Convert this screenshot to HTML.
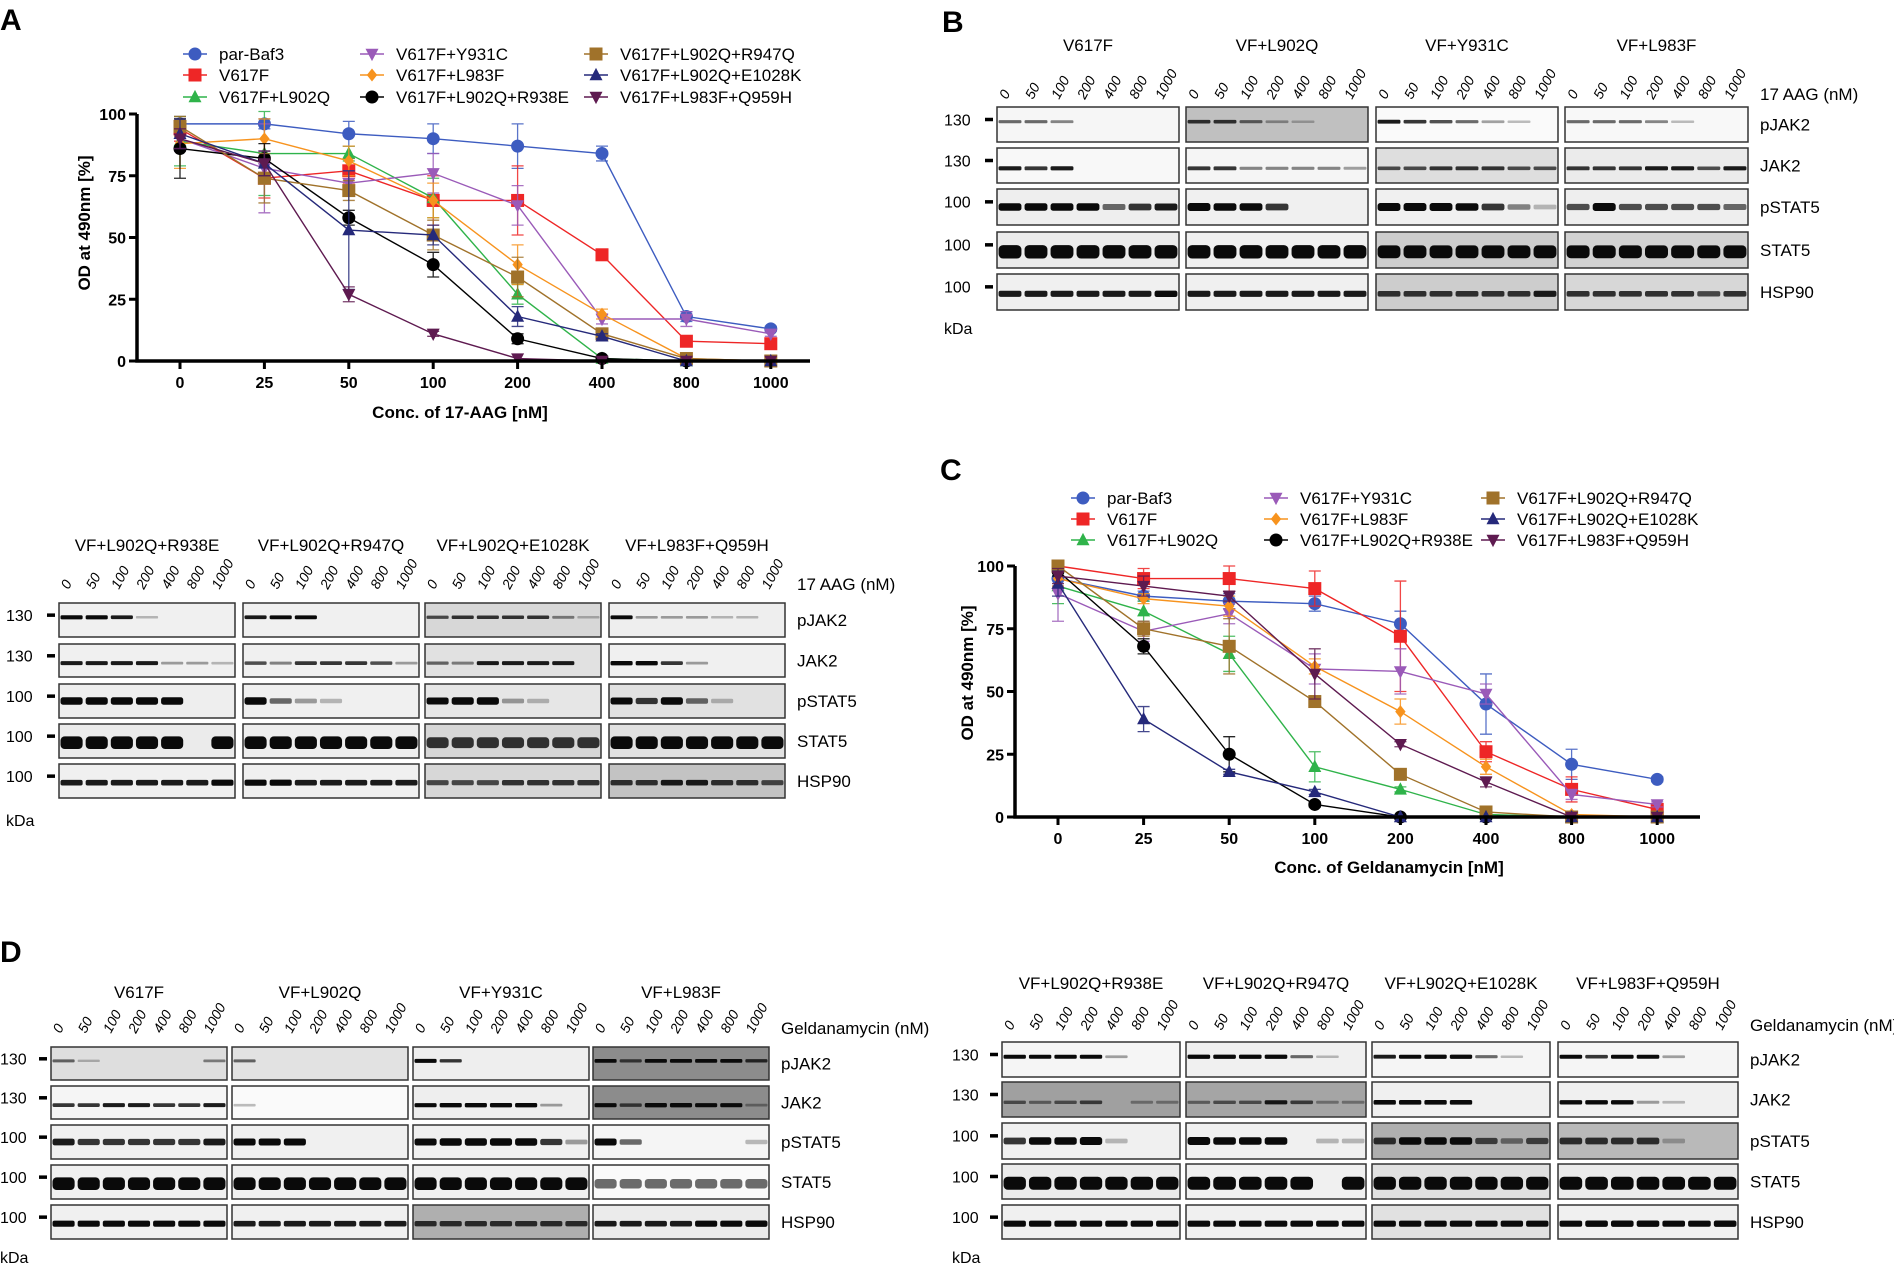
<!DOCTYPE html>
<html><head><meta charset="utf-8">
<style>
html,body{margin:0;padding:0;background:#fff;}
svg{display:block;font-family:"Liberation Sans",sans-serif;}
</style></head>
<body>
<svg id="fig" width="1894" height="1265" viewBox="0 0 1894 1265" xmlns="http://www.w3.org/2000/svg">
<rect x="0" y="0" width="1894" height="1265" fill="#fff"/>
<text x="0" y="30" font-size="30" font-weight="bold">A</text>
<text x="942" y="32" font-size="30" font-weight="bold">B</text>
<text x="940" y="480" font-size="30" font-weight="bold">C</text>
<text x="0" y="962" font-size="30" font-weight="bold">D</text>
<g id="layer"></g>
</svg>
<script>
// ---------- chart data ----------
const CATEGORIES = ['0','25','50','100','200','400','800','1000'];
const Y_TICKS = [0,25,50,75,100];
const SERIES_NAMES = ['par-Baf3','V617F','V617F+L902Q','V617F+Y931C','V617F+L983F','V617F+L902Q+R938E','V617F+L902Q+R947Q','V617F+L902Q+E1028K','V617F+L983F+Q959H'];
const SERIES_COLORS = ['#3d5cc0','#ee2626','#2fb34a','#9a5ab8','#f7931e','#000000','#a0722a','#25297a','#5e1a50'];
const SERIES_SHAPES = ['circle','square','tri','tridown','diamond','circle','square','tri','tridown'];

// Panel A (17-AAG)
const A_PAR    = [96,96,92,90,87,84,18,13];
const A_V617F  = [94,74,77,65,65,43,8,7];
const A_L902Q  = [89,84,84,66,27,1,0,0];
const A_Y931C  = [90,78,72,76,63,17,17,11];
const A_L983F  = [88,90,81,65,39,19,1,0];
const A_R938E  = [86,82,58,39,9,1,0,0];
const A_R947Q  = [95,74,69,51,34,11,1,0];
const A_E1028K = [92,80,53,51,18,10,0,0];
const A_Q959H  = [90,80,27,11,1,0,0,0];
const A_ERR_PAR=[3,2,5,6,9,3,2,1], A_ERR_V617F=[5,8,5,10,14,1,1,1], A_ERR_L902Q=[10,17,3,8,4,0,0,0];
const A_ERR_Y931C=[5,18,5,8,8,2,3,1], A_ERR_L983F=[10,8,6,7,8,2,0,0], A_ERR_R938E=[12,6,3,5,2,0,0,0];
const A_ERR_R947Q=[4,10,4,6,8,1,0,0], A_ERR_E1028K=[6,5,24,4,4,1,0,0], A_ERR_Q959H=[4,5,3,1,0,0,0,0];

// Panel C (Geldanamycin)
const C_PAR    = [95,88,86,85,77,45,21,15];
const C_V617F  = [100,95,95,91,72,26,11,3];
const C_L902Q  = [92,82,65,20,11,1,0,0];
const C_Y931C  = [89,74,81,59,58,49,9,5];
const C_L983F  = [95,87,84,60,42,20,1,0];
const C_R938E  = [98,68,25,5,0,0,0,0];
const C_R947Q  = [100,75,68,46,17,2,0,0];
const C_E1028K = [93,39,18,10,0,0,0,0];
const C_Q959H  = [96,92,88,57,29,14,0,0];
const C_ERR_PAR=[3,2,3,3,5,12,6,1], C_ERR_V617F=[1,4,5,7,22,4,5,2], C_ERR_L902Q=[7,4,7,6,1,0,0,0];
const C_ERR_Y931C=[11,4,4,6,9,4,2,1], C_ERR_L983F=[3,2,4,3,5,3,0,0], C_ERR_R938E=[2,3,7,1,0,0,0,0];
const C_ERR_R947Q=[2,3,11,2,1,1,0,0], C_ERR_E1028K=[5,5,1,1,0,0,0,0], C_ERR_Q959H=[3,4,2,10,1,2,0,0];

const NS='http://www.w3.org/2000/svg';
const layer=document.getElementById('layer');
function mk(tag,attrs,parent){const e=document.createElementNS(NS,tag);for(const k in attrs)e.setAttribute(k,attrs[k]);(parent||layer).appendChild(e);return e;}
function txt(s,attrs,parent){const e=mk('text',attrs,parent);e.textContent=s;return e;}

function marker(g,shape,x,y,color,r){
  let e;
  if(shape==='circle') e=mk('circle',{cx:x,cy:y,r:r,fill:color},g);
  else if(shape==='square') e=mk('rect',{x:x-r,y:y-r,width:2*r,height:2*r,fill:color},g);
  else if(shape==='tri') e=mk('polygon',{points:`${x},${y-r*1.1} ${x-r},${y+r*0.8} ${x+r},${y+r*0.8}`,fill:color},g);
  else if(shape==='tridown') e=mk('polygon',{points:`${x},${y+r*1.1} ${x-r},${y-r*0.8} ${x+r},${y-r*0.8}`,fill:color},g);
  else e=mk('polygon',{points:`${x},${y-r} ${x+r*0.8},${y} ${x},${y+r} ${x-r*0.8},${y}`,fill:color},g);
  return e;
}

function drawChart(cfg,seriesVals,seriesErrs){
  const g=mk('g',{});
  
  
  const xAt=i=>cfg.first+i*cfg.step;
  const yAt=v=>cfg.y0+(cfg.y100-cfg.y0)*v/100;
  seriesVals.forEach((vals,s)=>{
    const sg=mk('g',{},g);
    
    
    const col=SERIES_COLORS[s];
    const errs=seriesErrs[s];
    vals.forEach((v,i)=>{
      const e=errs[i]; if(e>0){
        const eb=mk('path',{d:`M${xAt(i)},${yAt(v-e)}V${yAt(v+e)}M${xAt(i)-6},${yAt(v-e)}h12M${xAt(i)-6},${yAt(v+e)}h12`,stroke:col,'stroke-width':1.3,fill:'none',opacity:0.85},sg);
        
        
      }
    });
    const pts=vals.map((v,i)=>xAt(i)+','+yAt(v)).join(' ');
    const line=mk('polyline',{points:pts,stroke:col,'stroke-width':1.4,fill:'none'},sg);
    
    
    vals.forEach((v,i)=>{
      const m=marker(sg,SERIES_SHAPES[s],xAt(i),yAt(v),col,6.5);
      
      
    });
  });
  const ax=mk('path',{d:`M${cfg.axX},${cfg.y100}V${cfg.y0}H${cfg.axEnd}`,stroke:'#000','stroke-width':3.5,fill:'none'},g);
  
  
  Y_TICKS.forEach(t=>{
    mk('line',{x1:cfg.axX-8,x2:cfg.axX,y1:yAt(t),y2:yAt(t),stroke:'#000','stroke-width':3},g);
    const l=txt(String(t),{x:cfg.axX-11,y:yAt(t)+6,'font-size':16,'font-weight':'bold','text-anchor':'end'},g);
    
    
  });
  CATEGORIES.forEach((c,i)=>{
    mk('line',{x1:xAt(i),x2:xAt(i),y1:cfg.y0,y2:cfg.y0+8,stroke:'#000','stroke-width':3},g);
    const l=txt(c,{x:xAt(i),y:cfg.y0+27,'font-size':16,'font-weight':'bold','text-anchor':'middle'},g);
    
    
  });
  const xt=txt(cfg.xtitle,{x:cfg.xtX,y:cfg.xtY,'font-size':17,'font-weight':'bold','text-anchor':'middle'},g);
  
  
  const yt=txt('OD at 490nm [%]',{x:0,y:0,'font-size':17,'font-weight':'bold','text-anchor':'middle',transform:`translate(${cfg.ytX},${cfg.ytY}) rotate(-90)`},g);
  
  
  SERIES_NAMES.forEach((n,s)=>{
    const col=Math.floor(s/3),row=s%3;
    const mx=cfg.legCols[col],my=cfg.legRows[row];
    const lg=mk('g',{},g);
    
    
    mk('line',{x1:mx-12,x2:mx+12,y1:my,y2:my,stroke:SERIES_COLORS[s],'stroke-width':1.5},lg);
    marker(lg,SERIES_SHAPES[s],mx,my,SERIES_COLORS[s],6.5);
    txt(n,{x:mx+cfg.legGap,y:my+6,'font-size':17},lg);
  });
}

drawChart({name:'chart-17aag',axX:137,axEnd:810,first:180,step:84.4,y0:361,y100:114,
  xtitle:'Conc. of 17-AAG [nM]',xtX:460,xtY:418,ytX:90,ytY:223,
  legCols:[195,372,596],legRows:[54,75,97],legGap:24},
  [A_PAR,A_V617F,A_L902Q,A_Y931C,A_L983F,A_R938E,A_R947Q,A_E1028K,A_Q959H],
  [A_ERR_PAR,A_ERR_V617F,A_ERR_L902Q,A_ERR_Y931C,A_ERR_L983F,A_ERR_R938E,A_ERR_R947Q,A_ERR_E1028K,A_ERR_Q959H]);

drawChart({name:'chart-geldanamycin',axX:1015,axEnd:1700,first:1058,step:85.6,y0:817,y100:566,
  xtitle:'Conc. of Geldanamycin [nM]',xtX:1389,xtY:873,ytX:973,ytY:673,
  legCols:[1083,1276,1493],legRows:[498,519,540],legGap:24},
  [C_PAR,C_V617F,C_L902Q,C_Y931C,C_L983F,C_R938E,C_R947Q,C_E1028K,C_Q959H],
  [C_ERR_PAR,C_ERR_V617F,C_ERR_L902Q,C_ERR_Y931C,C_ERR_L983F,C_ERR_R938E,C_ERR_R947Q,C_ERR_E1028K,C_ERR_Q959H]);

// ---------- western blots ----------
const LANES=['0','50','100','200','400','800','1000'];
const ROWS=['pJAK2','JAK2','pSTAT5','STAT5','HSP90'];
const KDA=['130','130','100','100','100'];
const ROW_POS=[0.42,0.58,0.5,0.55,0.55];
const ROW_TH=[0.11,0.12,0.2,0.34,0.17];

function drawBlot(cfg){
  const g=mk('g',{});
  
  
  cfg.titles.forEach((t,gi)=>{
    const [x1,x2]=cfg.gx[gi];
    const tt=txt(t,{x:(x1+x2)/2,y:cfg.titleY,'font-size':17,'text-anchor':'middle'},g);
    
    
    const lw=(x2-x1)/7;
    LANES.forEach((l,li)=>{
      const cx=x1+lw*(li+0.5)-3;
      const lt=txt(l,{x:0,y:0,'font-size':14,'font-style':'italic',transform:`translate(${cx},${cfg.laneY}) rotate(-62)`},g);
      
      
    });
    ROWS.forEach((r,ri)=>{
      const [y1,y2]=cfg.ry[ri];
      const h=y2-y1;
      const spec=cfg.data[ri][gi];
      const bgv=spec[1];
      const box=mk('rect',{x:x1,y:y1,width:x2-x1,height:h,fill:`rgb(${bgv},${bgv},${bgv})`,stroke:'#333','stroke-width':1.5},g);
      
      
      spec[0].split('').forEach((d,li)=>{
        const v=+d; if(v===0) return;
        const th=h*ROW_TH[ri]*(0.6+0.5*v/9);
        const cy=y1+h*ROW_POS[ri];
        const b=mk('rect',{x:x1+lw*li+lw*0.06,y:cy-th/2,width:lw*0.88,height:th,rx:th/3,fill:'#0a0a0a',opacity:Math.min(1,0.15+v/9)},g);
        
        
      });
    });
  });
  const gx2=cfg.gx[3][1];
  const ul=txt(cfg.unit,{x:gx2+12,y:cfg.laneY,'font-size':17},g);
  
  
  ROWS.forEach((r,ri)=>{
    const [y1,y2]=cfg.ry[ri];
    const rl=txt(r,{x:gx2+12,y:(y1+y2)/2+6,'font-size':17},g);
    
    
    const ky=y1+(y2-y1)*0.35;
    const kl=txt(KDA[ri],{x:cfg.kdaX,y:ky+6,'font-size':16},g);
    
    
    mk('rect',{x:cfg.gx[0][0]-12,y:ky-1.5,width:8,height:3.5,fill:'#000'},g);
  });
  const kd=txt('kDa',{x:cfg.kdaX,y:cfg.kdaY,'font-size':16},g);
  
  
}

drawBlot({name:'blot-17aag-single',unit:'17 AAG (nM)',titles:['V617F','VF+L902Q','VF+Y931C','VF+L983F'],
  gx:[[997,1179],[1186,1368],[1376,1558],[1565,1748]],
  ry:[[107,142],[148,183],[189,225],[232,268],[274,310]],
  titleY:51,laneY:100,kdaX:944,kdaY:334,
  data:[
    [['4430000',246],['6642100',192],['7654210',250],['4443100',248]],
    [['7670000',248],['6633332',245],['5566655',222],['6667757',235]],
    [['8888467',238],['9886000',240],['9998631',240],['5955554',238]],
    [['9999999',235],['9999999',240],['8888888',205],['8888888',210]],
    [['7777778',240],['7777777',240],['6666667',205],['6666656',215]]]});

drawBlot({name:'blot-17aag-triple',unit:'17 AAG (nM)',titles:['VF+L902Q+R938E','VF+L902Q+R947Q','VF+L902Q+E1028K','VF+L983F+Q959H'],
  gx:[[59,235],[243,419],[425,601],[609,785]],
  ry:[[603,637],[644,677],[684,718],[724,758],[764,798]],
  titleY:551,laneY:590,kdaX:6,kdaY:826,
  data:[
    [['9971000',240],['7880000',240],['5666631',215],['8222110',238]],
    [['7777221',240],['5366652',240],['4377770',225],['9962000',240]],
    [['9999900',238],['9421000',240],['8992100',230],['8694100',225]],
    [['9999909',235],['9999999',238],['6666666',215],['9999999',225]],
    [['7777778',240],['8877777',240],['5556666',215],['6677665',195]]]});

drawBlot({name:'blot-geldanamycin-single',unit:'Geldanamycin (nM)',titles:['V617F','VF+L902Q','VF+Y931C','VF+L983F'],
  gx:[[51,227],[232,408],[413,589],[593,769]],
  ry:[[1047,1080],[1086,1119],[1125,1159],[1165,1199],[1205,1239]],
  titleY:998,laneY:1034,kdaX:0,kdaY:1263,
  data:[
    [['4100003',222],['4000000',226],['9600000',238],['8588886',140]],
    [['6677667',245],['1000000',250],['8999920',238],['8599882',140]],
    [['7666667',240],['8880000',240],['8999962',240],['8400001',245]],
    [['9999999',240],['9999999',240],['9999999',240],['4444444',250]],
    [['8888888',240],['7777777',240],['6666666',175],['7777889',235]]]});

drawBlot({name:'blot-geldanamycin-triple',unit:'Geldanamycin (nM)',titles:['VF+L902Q+R938E','VF+L902Q+R947Q','VF+L902Q+E1028K','VF+L983F+Q959H'],
  gx:[[1002,1180],[1186,1366],[1372,1550],[1558,1738]],
  ry:[[1042,1077],[1082,1117],[1123,1159],[1164,1199],[1205,1239]],
  titleY:989,laneY:1031,kdaX:952,kdaY:1263,
  data:[
    [['8888200',245],['9999410',240],['7899410',245],['8688200',245]],
    [['4345022',160],['3447522',165],['9999000',240],['8882100',240]],
    [['6889100',240],['9888011',240],['6888535',175],['6666100',185]],
    [['9999999',235],['9999909',240],['9999999',225],['9999999',235]],
    [['8888888',240],['8888888',240],['8888888',225],['8999889',240]]]});
</script>
</body></html>
